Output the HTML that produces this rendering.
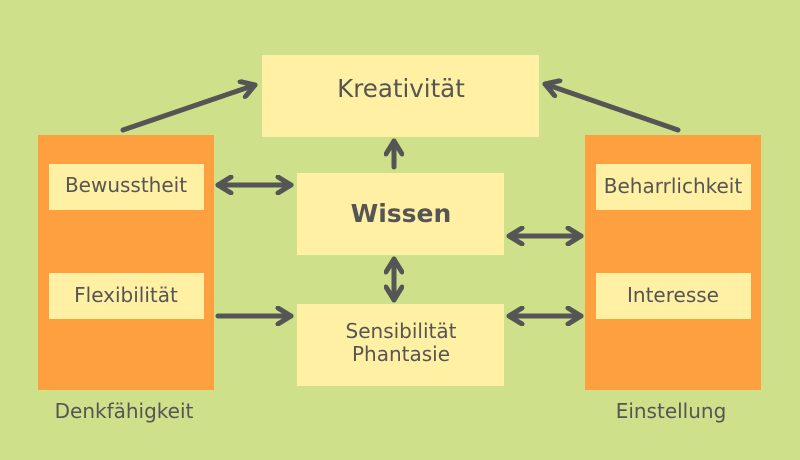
<!DOCTYPE html>
<html><head><meta charset="utf-8"><style>
html,body{margin:0;padding:0;background:#cfe08a;}
svg{display:block;font-family:"DejaVu Sans","Liberation Sans",sans-serif;}
</style></head><body>
<svg width="800" height="460" viewBox="0 0 800 460" xmlns="http://www.w3.org/2000/svg">
<defs>
<marker id="a" viewBox="-16 -10 20 20" refX="0" refY="0" markerWidth="20" markerHeight="20" markerUnits="userSpaceOnUse" orient="auto-start-reverse">
<polyline points="-13,-8 0,0 -13,8" fill="none" stroke="#555" stroke-width="5" stroke-linecap="round" stroke-linejoin="round"/>
</marker>
</defs>
<rect width="800" height="460" fill="#cfe08a"/>
<rect x="262" y="55" width="277" height="82" fill="#fff0a3"/>
<rect x="38" y="135" width="176" height="255" fill="#ffa040"/>
<rect x="585" y="135" width="176" height="255" fill="#ffa040"/>
<rect x="49" y="164" width="155" height="46" fill="#fff0a3"/>
<rect x="49" y="273" width="155" height="46" fill="#fff0a3"/>
<rect x="596" y="164" width="155" height="46" fill="#fff0a3"/>
<rect x="596" y="273" width="155" height="46" fill="#fff0a3"/>
<rect x="297" y="173" width="207" height="82" fill="#fff0a3"/>
<rect x="297" y="304" width="207" height="82" fill="#fff0a3"/>
<g fill="#555" text-anchor="middle">
<text x="401" y="97" font-size="24.5">Kreativität</text>
<text x="401" y="222" font-size="25" font-weight="bold">Wissen</text>
<text x="401" y="338" font-size="20">Sensibilität</text>
<text x="401" y="361" font-size="20">Phantasie</text>
<text x="126" y="192" font-size="20">Bewusstheit</text>
<text x="126" y="302" font-size="20">Flexibilität</text>
<text x="673" y="193" font-size="20">Beharrlichkeit</text>
<text x="673" y="302" font-size="20">Interesse</text>
<text x="124" y="418" font-size="20">Denkfähigkeit</text>
<text x="671" y="418" font-size="20">Einstellung</text>
</g>
<g stroke="#555" stroke-width="5" stroke-linecap="round" fill="none">
<line x1="123" y1="130" x2="255" y2="85" marker-end="url(#a)"/>
<line x1="678" y1="130" x2="545" y2="84" marker-end="url(#a)"/>
<line x1="394" y1="167" x2="394" y2="141" marker-end="url(#a)"/>
<line x1="218" y1="185" x2="291" y2="185" marker-start="url(#a)" marker-end="url(#a)"/>
<line x1="218" y1="316" x2="291" y2="316" marker-end="url(#a)"/>
<line x1="394" y1="259" x2="394" y2="300" marker-start="url(#a)" marker-end="url(#a)"/>
<line x1="509" y1="236" x2="581" y2="236" marker-start="url(#a)" marker-end="url(#a)"/>
<line x1="509" y1="316" x2="581" y2="316" marker-start="url(#a)" marker-end="url(#a)"/>
</g>
</svg>
</body></html>
